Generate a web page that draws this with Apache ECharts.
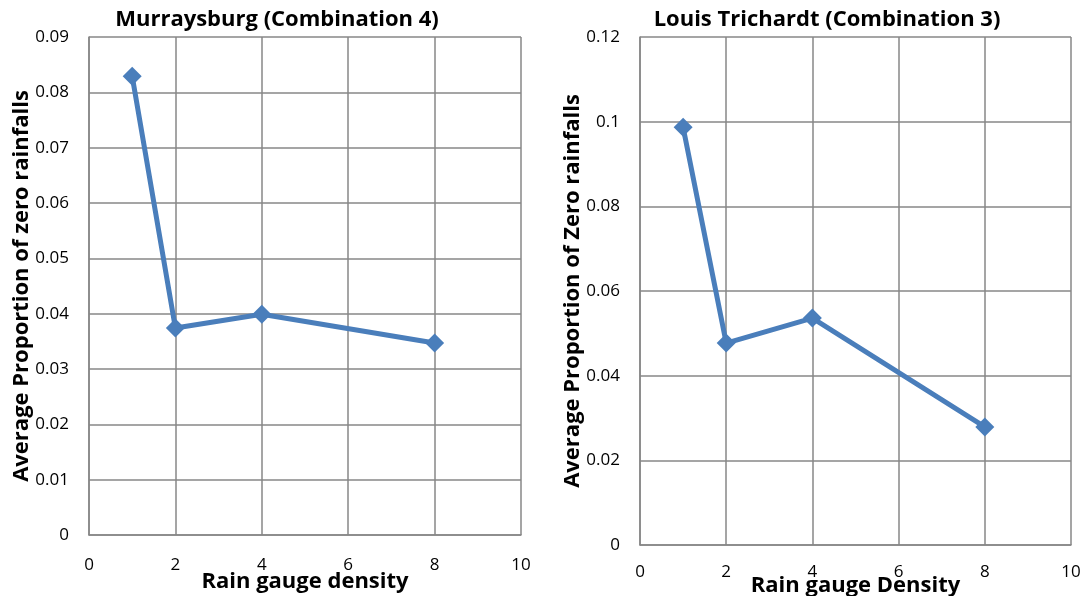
<!DOCTYPE html>
<html>
<head>
<meta charset="utf-8">
<script src="https://cdn.jsdelivr.net/npm/echarts@6/dist/echarts.min.js"></script>
<style>
  html, body { margin: 0; padding: 0; background: #fff; }
  #chart { width: 1086px; height: 596px; }
</style>
</head>
<body>
<div id="chart"></div>
<script>
// Rain gauge densities sampled at each site
const densities = [1, 2, 4, 8];

// Average proportion of zero rainfalls per density
const murraysburgValues = [0.0829, 0.0374, 0.0399, 0.0347];
const louisTrichardtValues = [0.0987, 0.0477, 0.0536, 0.0279];

const chartTitles = ['Murraysburg (Combination 4)', 'Louis Trichardt (Combination 3)'];
const xAxisNames = ['Rain gauge density', 'Rain gauge Density'];
const yAxisNames = ['Average Proportion of zero rainfalls', 'Average Proportion of Zero rainfalls'];

const FONT = '"Open Sans", "Liberation Sans", sans-serif';
const GRID_COLOR = '#878787';
const LINE_COLOR = '#4a7ebb';

const chart = echarts.init(document.getElementById('chart'));

function xAxis(idx, name, labelMargin, gap) {
  return {
    type: 'value', gridIndex: idx, min: 0, max: 10, interval: 2,
    name: name, nameLocation: 'middle', nameGap: gap, nameMoveOverlap: false,
    nameTextStyle: { fontFamily: FONT, fontWeight: 'bold', fontSize: 22, color: '#000' },
    axisLine: { show: true, lineStyle: { color: GRID_COLOR, width: 1.5 } },
    axisTick: { show: false },
    axisLabel: { margin: labelMargin, fontFamily: FONT, fontSize: 17, color: '#000' },
    splitLine: { show: true, lineStyle: { color: GRID_COLOR, width: 1.5 } }
  };
}

function yAxis(idx, name, max, interval, gap) {
  return {
    type: 'value', gridIndex: idx, min: 0, max: max, interval: interval,
    name: name, nameLocation: 'middle', nameGap: gap, nameMoveOverlap: false,
    nameTextStyle: { fontFamily: FONT, fontWeight: 'bold', fontSize: 22, color: '#000' },
    axisLine: { show: true, lineStyle: { color: GRID_COLOR, width: 1.5 } },
    axisTick: { show: false },
    axisLabel: { margin: 20, fontFamily: FONT, fontSize: 17, color: '#000' },
    splitLine: { show: true, lineStyle: { color: GRID_COLOR, width: 1.5 } }
  };
}

function series(idx, values) {
  return {
    type: 'line', xAxisIndex: idx, yAxisIndex: idx,
    data: densities.map((d, i) => [d, values[i]]),
    symbol: 'diamond', symbolSize: 19,
    lineStyle: { color: LINE_COLOR, width: 5 },
    itemStyle: { color: LINE_COLOR },
    silent: true, animation: false
  };
}

chart.setOption({
  animation: false,
  title: [
    { text: chartTitles[0], left: 272, top: 4, textAlign: 'center',
      textStyle: { fontFamily: FONT, fontWeight: 'bold', fontSize: 22, color: '#000' } },
    { text: chartTitles[1], left: 822, top: 4, textAlign: 'center',
      textStyle: { fontFamily: FONT, fontWeight: 'bold', fontSize: 22, color: '#000' } }
  ],
  grid: [
    { left: 89, top: 37, width: 432, height: 498, containLabel: false, outerBoundsMode: 'none' },
    { left: 640, top: 37, width: 431, height: 508, containLabel: false, outerBoundsMode: 'none' }
  ],
  xAxis: [xAxis(0, xAxisNames[0], 22, 36), xAxis(1, xAxisNames[1], 19, 30)],
  yAxis: [
    yAxis(0, yAxisNames[0], 0.09, 0.01, 56),
    yAxis(1, yAxisNames[1], 0.12, 0.02, 56)
  ],
  series: [series(0, murraysburgValues), series(1, louisTrichardtValues)]
});
</script>
</body>
</html>
